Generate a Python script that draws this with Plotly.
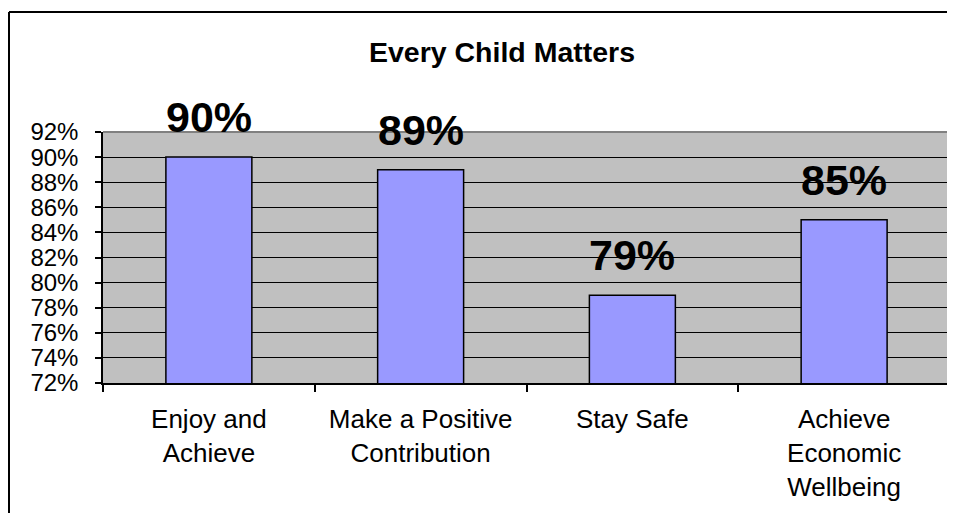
import plotly.graph_objects as go

categories = ["Enjoy and<br>Achieve", "Make a Positive<br>Contribution", "Stay Safe", "Achieve<br>Economic<br>Wellbeing"]
values = [0.90, 0.89, 0.79, 0.85]
value_labels = ["90%", "89%", "79%", "85%"]
y_ticks = [0.72, 0.74, 0.76, 0.78, 0.80, 0.82, 0.84, 0.86, 0.88, 0.90, 0.92]

# page body has an 8px margin, so the figure is offset by 8px
OFF = 8
W, H = 955 - OFF, 521 - 2 * OFF
L, R, T, B = 103 - OFF, 950 - OFF, 132 - OFF, 383 - OFF
pw, ph = R - L, B - T

fig = go.Figure()
fig.add_trace(go.Bar(
    x=categories, y=values,
    marker=dict(color="#9999FF", line=dict(color="black", width=1.5)),
    hoverinfo="skip",
))

for c, v, t in zip(categories, values, value_labels):
    fig.add_annotation(x=c, y=v, text="<b>%s</b>" % t, showarrow=False,
                       yanchor="bottom", yshift=14,
                       font=dict(family="Liberation Sans, Arial", size=43, color="black"))

# outer chart border (left and top edges only; the rest lies outside the view)
bx0 = (1 - L) / pw
by1 = (B - 4) / ph
fig.add_shape(type="line", xref="paper", yref="paper", x0=bx0, x1=1.3, y0=by1, y1=by1,
              line=dict(color="black", width=2), layer="below")
fig.add_shape(type="line", xref="paper", yref="paper", x0=bx0, x1=bx0, y0=-1.0, y1=by1,
              line=dict(color="black", width=2), layer="below")
# plot area grey border (top & right)
fig.add_shape(type="line", xref="paper", yref="paper", x0=0, x1=1, y0=1, y1=1,
              line=dict(color="#808080", width=2), layer="above")
fig.add_shape(type="line", xref="paper", yref="paper", x0=1, x1=1, y0=0, y1=1,
              line=dict(color="#808080", width=2), layer="above")

fig.update_layout(
    width=W, height=H,
    margin=dict(l=L, r=W - R, t=T, b=H - B, pad=0),
    paper_bgcolor="white", plot_bgcolor="#C0C0C0",
    bargap=0.594,
    showlegend=False,
    font=dict(family="Liberation Sans, Arial", size=26, color="black"),
    title=dict(text="<b>Every Child Matters</b>", x=(502 - OFF) / W, xanchor="center",
               y=1 - (52 - OFF) / H, yanchor="middle",
               font=dict(family="Liberation Sans, Arial", size=28.5, color="black")),
    xaxis=dict(showgrid=False, showline=True, linecolor="black", linewidth=1.5,
               ticks="outside", tickson="boundaries", ticklen=7, tickcolor="black", tickwidth=1.5,
               tickfont=dict(size=26), ticklabelstandoff=12),
    yaxis=dict(range=[0.72, 0.92], tickvals=y_ticks, tickformat=".0%",
               showgrid=True, gridcolor="black", gridwidth=1.2,
               showline=True, linecolor="black", linewidth=1.5,
               ticks="outside", ticklen=6, tickcolor="black", tickwidth=1.5,
               tickfont=dict(size=24), ticklabelstandoff=12, zeroline=False),
)

fig.write_html("out.html")
